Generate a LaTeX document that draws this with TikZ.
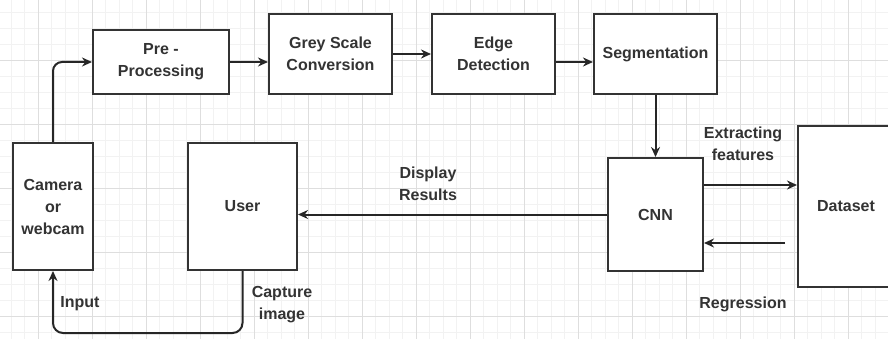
\documentclass[tikz,border=0pt]{standalone}
\usepackage{fontspec}
\setmainfont{Liberation Sans}
\usetikzlibrary{arrows.meta}
\definecolor{txtgrey}{HTML}{333333}
\definecolor{gridminor}{HTML}{F2F2F2}
\definecolor{gridmajor}{HTML}{DEDEDE}
\tikzset{
	box/.style={draw=black!80, line width=2pt, fill=white, inner sep=2pt, align=center,
		text=txtgrey, font=\fontsize{16}{22}\selectfont\bfseries},
	arr/.style={draw=black!85, line width=2pt, -{Stealth[length=10pt,width=9pt]}},
	lbl/.style={text=txtgrey, align=center, font=\fontsize{16}{22}\selectfont\bfseries}
}

\begin{document}
\begin{tikzpicture}[x=1pt, y=-1pt]
			%%%%% START %%%%%
			\useasboundingbox (0, 0) rectangle (888, 339);
			\fill[white] (0, 0) rectangle (888, 339);
			
			% background grid
			\foreach \i in {-3,...,64}
				\draw[gridminor, line width=0.5pt] ({38+13.5*\i}, 0) -- ({38+13.5*\i}, 339);
			\foreach \j in {-4,...,18}
				\draw[gridminor, line width=0.5pt] (0, {60+16*\j}) -- (888, {60+16*\j});
			\foreach \i in {-1,...,16}
				\draw[gridmajor, line width=0.7pt] ({38+54*\i}, 0) -- ({38+54*\i}, 339);
			\foreach \j in {-1,...,5}
				\draw[gridmajor, line width=0.7pt] (0, {60+64*\j}) -- (888, {60+64*\j});
			
			% top row
			\node[box, minimum width=136pt, minimum height=64pt] (pre) at (161, 62) {Pre -\\Processing};
			\node[box, minimum width=123pt, minimum height=80pt] (grey) at (330.5, 54) {Grey Scale\\Conversion};
			\node[box, minimum width=123pt, minimum height=80pt] (edge) at (493.5, 54) {Edge\\Detection};
			\node[box, minimum width=123pt, minimum height=80pt] (seg) at (655.5, 54) {Segmentation};
			
			% bottom row
			\node[box, minimum width=80pt, minimum height=127pt] (cam) at (53, 206.5) {Camera\\or\\webcam};
			\node[box, minimum width=109pt, minimum height=127pt] (user) at (242.5, 206.5) {User};
			\node[box, minimum width=95pt, minimum height=113pt] (cnn) at (655.5, 214.5) {CNN};
			\node[box, minimum width=96pt, minimum height=161pt] (data) at (846, 206.5) {Dataset};
			
			% connectors
			\draw[arr, rounded corners=9pt] (cam.north) |- (pre.west);
			\draw[arr] (pre.east) -- (pre.east -| grey.west);
			\draw[arr] (grey.east) -- (edge.west);
			\draw[arr] ([yshift=-8pt]edge.east) -- ([yshift=-8pt]edge.east -| seg.west);
			\draw[arr] (seg.south) -- (cnn.north);
			\draw[arr] (cnn.west) -- (cnn.west -| user.east);
			\draw[arr] ([yshift=29.5pt]cnn.east) -- ([yshift=29.5pt]cnn.east -| data.west);
			\coordinate (regstart) at (785, 243);
			\draw[arr] (regstart) -- (regstart -| cnn.east);
			\draw[arr, rounded corners=10pt] (user.south) -- (242.5, 333) -| (cam.south);
			
			% labels
			\node[lbl] (disp) at (428, 184) {Display\\Results};
			\node[lbl] (extr) at (743, 144) {Extracting\\features};
			\node[lbl] (regr) at (743, 304) {Regression};
			\node[lbl] (inp) at (80, 304) {Input};
			\node[lbl] (capt) at (282, 305) {Capture\\image};
			%%%%% END %%%%%
\end{tikzpicture}
\end{document}
